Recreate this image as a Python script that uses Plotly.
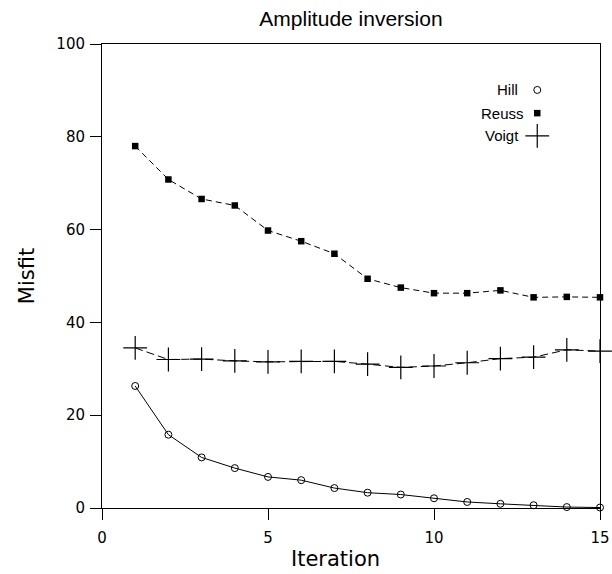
import plotly.graph_objects as go

iterations = list(range(1, 16))
hill = [26.3, 15.8, 10.9, 8.6, 6.7, 6.0, 4.3, 3.3, 2.9, 2.1, 1.3, 0.9, 0.6, 0.2, 0.1]
reuss = [78.0, 70.8, 66.6, 65.2, 59.8, 57.5, 54.8, 49.4, 47.5, 46.3, 46.3, 46.9, 45.4, 45.5, 45.4]
voigt = [34.5, 32.0, 32.1, 31.7, 31.5, 31.6, 31.6, 31.0, 30.3, 30.6, 31.3, 32.2, 32.5, 34.1, 33.8]
series_names = ["Hill", "Reuss", "Voigt"]

x_ticks = [0, 5, 10, 15]
y_ticks = [0, 20, 40, 60, 80, 100]

tick_font = dict(family="DejaVu Sans", size=15, color="black")
title_font = dict(family="DejaVu Sans", size=21, color="black")
text_font = dict(family="Liberation Sans, Arial", size=15, color="black")

fig = go.Figure()

fig.add_trace(go.Scatter(
    x=iterations, y=hill, mode="lines+markers", name="Hill",
    line=dict(color="black", width=1),
    marker=dict(symbol="circle-open", size=7, color="black", line=dict(width=1, color="black")),
    cliponaxis=False, showlegend=False))
fig.add_trace(go.Scatter(
    x=iterations, y=reuss, mode="lines+markers", name="Reuss",
    line=dict(color="black", width=1, dash="6px,4px"),
    marker=dict(symbol="square", size=6.5, color="black"),
    cliponaxis=False, showlegend=False))
fig.add_trace(go.Scatter(
    x=iterations, y=voigt, mode="lines+markers", name="Voigt",
    line=dict(color="black", width=1, dash="8px,4px"),
    marker=dict(symbol="cross-thin", size=17, color="black", line=dict(width=1.2, color="black")),
    cliponaxis=False, showlegend=False))

# legend keys (text left of symbol) on an overlay axis in [0,1] space
key_y = [0.901, 0.851, 0.802]
key_x = 0.874
symbols = [dict(symbol="circle-open", size=7, color="black", line=dict(width=1, color="black")),
           dict(symbol="square", size=6.5, color="black"),
           dict(symbol="cross-thin", size=17, color="black", line=dict(width=1.2, color="black"))]
for name, yk, sym in zip(series_names, key_y, symbols):
    fig.add_trace(go.Scatter(x=[key_x], y=[yk], mode="markers", marker=sym,
                             xaxis="x2", yaxis="y2", showlegend=False, hoverinfo="skip"))
text_right = [0.839, 0.851, 0.841]
for name, yk, xr in zip(series_names, key_y, text_right):
    fig.add_annotation(x=xr, y=yk, xref="paper", yref="paper", text=name,
                       showarrow=False, xanchor="right", yanchor="middle", font=text_font)

# x-axis title (slightly left of centre, as in the reference)
fig.add_annotation(x=0.469, y=-0.110, xref="paper", yref="paper", text="Iteration",
                   showarrow=False, xanchor="center", yanchor="middle", font=title_font)

fig.update_layout(
    width=612, height=574,
    margin=dict(l=102, r=12, t=44, b=66),
    paper_bgcolor="white", plot_bgcolor="white",
    title=dict(text="Amplitude inversion", x=0.5, xref="paper", xanchor="center",
               y=1 - 19 / 574, yref="container", yanchor="middle",
               font=dict(family="Liberation Sans, Arial", size=21, color="black")),
    xaxis=dict(range=[0, 15], tickvals=x_ticks, ticks="outside", ticklen=11, tickwidth=1,
               tickcolor="black", showline=True, linecolor="black", linewidth=1, mirror=True,
               showgrid=False, zeroline=False, tickfont=tick_font, ticklabelstandoff=5,
               automargin=False),
    yaxis=dict(range=[0, 100], tickvals=y_ticks, ticks="outside", ticklen=11, tickwidth=1,
               tickcolor="black", showline=True, linecolor="black", linewidth=1, mirror=True,
               showgrid=False, zeroline=False, tickfont=tick_font, ticklabelstandoff=2,
               automargin=False,
               title=dict(text="Misfit", font=title_font, standoff=16)),
    xaxis2=dict(range=[0, 1], overlaying="x", visible=False),
    yaxis2=dict(range=[0, 1], overlaying="y", visible=False),
)

fig.write_html("out.html")
